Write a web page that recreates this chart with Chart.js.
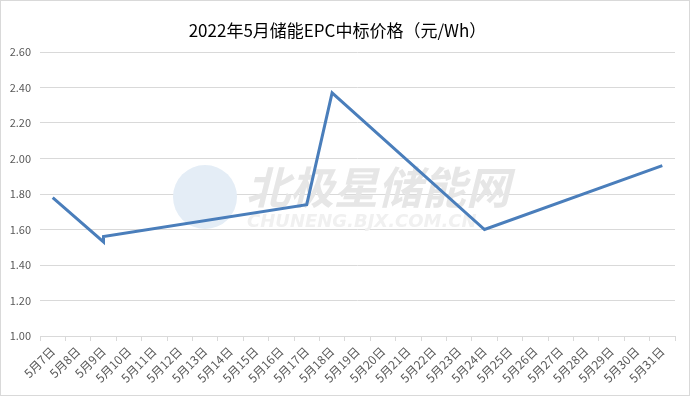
<!DOCTYPE html>
<html>
<head>
<meta charset="utf-8">
<script src="https://cdn.jsdelivr.net/npm/chart.js@4/dist/chart.umd.min.js"></script>
<style>
  html, body { margin: 0; padding: 0; background: #fff; }
  #wrap { width: 690px; height: 396px; }
</style>
</head>
<body>
<div id="wrap"><canvas id="priceChart" width="690" height="396"></canvas></div>
<script>
// categories (x axis)
const dates = [
    '5月7日', '5月8日', '5月9日', '5月10日', '5月11日', '5月12日', '5月13日',
    '5月14日', '5月15日', '5月16日', '5月17日', '5月18日', '5月19日', '5月20日',
    '5月21日', '5月22日', '5月23日', '5月24日', '5月25日', '5月26日', '5月27日',
    '5月28日', '5月29日', '5月30日', '5月31日'
];

// price points, in drawing order (5月9日 has two prices -> the little hook)
const priceDates = ['5月7日', '5月9日', '5月9日', '5月17日', '5月18日', '5月24日', '5月31日'];
const priceValues = [1.78, 1.53, 1.56, 1.74, 2.37, 1.60, 1.96];

const yMin = 1.0;
const yMax = 2.6;
const yStep = 0.2;

const titleText = '2022年5月储能EPC中标价格（元/Wh）';
const lineColor = '#4a7ebb';

const points = priceDates.map((d, i) => ({ x: d, y: priceValues[i] }));

Chart.defaults.font.family = '"Noto Sans CJK SC", "Noto Sans", sans-serif';
Chart.defaults.color = '#595959';

// faint site watermark + outer border
const decor = {
    id: 'decor',
    beforeDatasetsDraw(chart) {
        const ctx = chart.ctx;
        ctx.save();
        ctx.fillStyle = '#e4edf6';
        ctx.beginPath();
        ctx.arc(205, 197, 32, 0, Math.PI * 2);
        ctx.fill();
        ctx.fillStyle = '#e6e6e6';
        ctx.font = 'italic bold 44px "Noto Sans CJK SC", sans-serif';
        ctx.textBaseline = 'middle';
        ctx.fillText('北极星储能网', 246, 187);
        ctx.fillStyle = '#f0f0f0';
        ctx.font = 'italic bold 18px "DejaVu Sans", sans-serif';
        ctx.fillText('CHUNENG.BJX.COM.CN', 247, 222);
        ctx.restore();
    },
    afterDraw(chart) {
        const ctx = chart.ctx;
        ctx.save();
        ctx.strokeStyle = '#d9d9d9';
        ctx.lineWidth = 1;
        ctx.strokeRect(0.5, 0.5, chart.width - 1, chart.height - 1);
        ctx.restore();
    }
};

const ctx = document.getElementById('priceChart').getContext('2d');
const chart = new Chart(ctx, {
    type: 'line',
    data: {
        labels: dates,
        datasets: [{
            data: points,
            borderColor: lineColor,
            borderWidth: 3,
            pointRadius: 0,
            tension: 0
        }]
    },
    options: {
        responsive: false,
        animation: false,
        layout: { padding: { left: 0, right: 15, top: 0, bottom: 0 } },
        plugins: {
            legend: { display: false },
            tooltip: { enabled: false },
            title: {
                display: true,
                text: titleText,
                color: '#000',
                font: { size: 17, weight: 'normal' },
                padding: { top: 20, bottom: 11.6 }
            }
        },
        scales: {
            x: {
                offset: true,
                grid: {
                    offset: true,
                    drawOnChartArea: false,
                    drawTicks: true,
                    tickLength: 5,
                    color: '#d9d9d9'
                },
                border: { display: true, color: '#d9d9d9' },
                ticks: {
                    autoSkip: false,
                    minRotation: 45,
                    maxRotation: 45,
                    padding: 3,
                    color: '#595959',
                    font: { size: 12 }
                },
                afterFit(scale) { scale.height = 60; }
            },
            y: {
                min: yMin,
                max: yMax,
                grid: { color: '#d9d9d9', drawTicks: false },
                border: { display: false },
                ticks: {
                    stepSize: yStep,
                    padding: 9,
                    color: '#595959',
                    font: { size: 11 },
                    callback: (v) => v.toFixed(2)
                },
                afterFit(scale) { scale.width = 40; }
            }
        }
    },
    plugins: [decor]
});
</script>
</body>
</html>
